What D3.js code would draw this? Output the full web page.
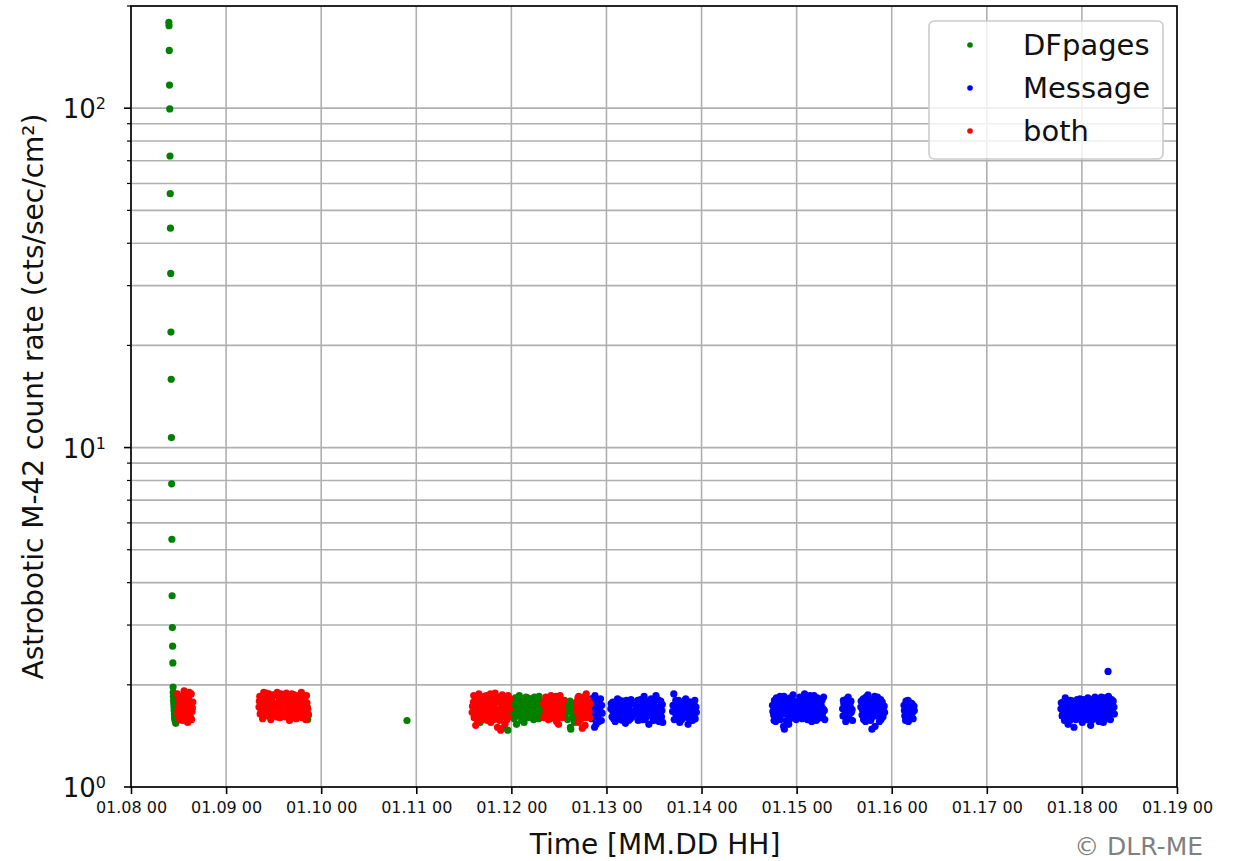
<!DOCTYPE html>
<html>
<head>
<meta charset="utf-8">
<script src="https://cdn.jsdelivr.net/npm/d3@7"></script>
<style>
  body { margin: 0; background: #ffffff; }
  text { font-family: "DejaVu Sans", sans-serif; }
</style>
</head>
<body>
<svg id="chart" width="1238" height="861"></svg>
<script>
// Astrobotic M-42 count rate, January 2024. Times are hours after 2024-01-08 00:00 UTC.
const startTime = "2024-01-08T00:00:00Z";
const endTime = "2024-01-19T00:00:00Z";
const seriesNames = ["DFpages", "Message", "both"];
const seriesColors = ["#008000", "#0000ff", "#ff0000"];
const yMajorTicks = [1, 10, 100];
const yTickExponents = ["0", "1", "2"];

// [hour, count rate]
const dfpages = [
  [9.55,179],[9.60,175],[9.66,148],[9.72,117],[9.78,99.5],[9.84,72.3],[9.90,56],[9.96,44.3],
  [10.02,32.6],[10.08,21.9],[10.14,15.9],[10.20,10.7],[10.26,7.82],[10.32,5.37],[10.38,3.66],
  [10.44,2.95],[10.50,2.60],[10.56,2.32],[10.62,1.97],[10.66,1.90],[10.70,1.85],[10.75,1.80],
  [10.80,1.76],[10.85,1.72],[10.90,1.68],[10.95,1.64],[11.00,1.60],[11.10,1.57],[11.20,1.69],
  [11.30,1.54],[11.05,1.75],[11.15,1.63],[11.25,1.58],[14.90,1.70],
  [39.7,1.83],[40.0,1.72],[40.1,1.60],[39.9,1.77],[39.8,1.66],[43.9,1.68],[44.3,1.66],[44.5,1.72],
  [44.8,1.63],[44.6,1.58],
  [69.66,1.57],
  [87.6,1.72],[88.1,1.55],[94.9,1.68],[93.9,1.49],[95.1,1.47],
  [95.9,1.80],[96.2,1.66],[96.4,1.74],[96.7,1.59],[97.0,1.83],[97.2,1.70],[97.5,1.62],[97.8,1.77],
  [98.0,1.86],[98.3,1.68],[98.6,1.57],[98.8,1.79],[99.1,1.73],[99.4,1.64],[99.7,1.84],[99.9,1.71],
  [100.2,1.60],[100.5,1.78],[100.8,1.67],[101.0,1.82],[101.3,1.74],[101.6,1.58],[101.9,1.69],
  [102.1,1.80],[102.4,1.63],[102.7,1.76],[103.0,1.85],[103.2,1.66],[103.5,1.72],[103.8,1.61],
  [96.0,1.72],[98.1,1.74],[100.0,1.75],[102.0,1.72],[97.3,1.53],[99.2,1.55],
  [96.1,1.62],[96.5,1.79],[96.9,1.69],[97.4,1.75],[97.7,1.65],[98.2,1.81],[98.5,1.72],[98.9,1.63],
  [99.3,1.80],[99.6,1.68],[100.1,1.83],[100.4,1.65],[100.7,1.72],[101.1,1.61],[101.5,1.77],
  [101.8,1.84],[102.2,1.67],[102.6,1.71],[102.9,1.59],[103.3,1.79],[103.7,1.68],[104.0,1.74],
  [109.2,1.70],[109.5,1.62],[109.8,1.76],[110.2,1.58],[110.5,1.68],[110.9,1.50],[111.2,1.73],
  [111.5,1.64],[111.9,1.55],[112.2,1.69],[112.5,1.60],[110.8,1.79],[111.0,1.48],
  [109.4,1.80],[110.0,1.66],[110.4,1.74],[111.4,1.60],[111.7,1.71],[112.0,1.63]
];

const message = [
  [115.9,1.70],[116.1,1.82],[116.3,1.59],[116.6,1.76],[116.9,1.65],[117.1,1.86],[117.4,1.53],
  [117.6,1.72],[117.9,1.62],[118.2,1.79],[118.4,1.67],[118.7,1.57],[118.8,1.74],[117.0,1.50],
  [116.0,1.64],[116.4,1.73],[116.8,1.80],[117.2,1.61],[117.5,1.79],[117.8,1.68],[118.1,1.56],
  [118.5,1.82],[118.9,1.65],
  [121.1,1.70],[121.4,1.61],[121.6,1.78],[121.9,1.66],[122.2,1.56],[122.5,1.74],[122.8,1.82],
  [123.0,1.63],[123.3,1.69],[123.6,1.58],[123.9,1.77],[124.2,1.66],[124.5,1.72],[124.8,1.54],
  [125.1,1.80],[125.4,1.64],[125.7,1.70],[126.0,1.59],[126.3,1.76],[126.6,1.66],
  [121.2,1.76],[121.5,1.68],[121.8,1.59],[122.0,1.72],[122.4,1.64],[122.7,1.60],[123.1,1.75],
  [123.4,1.80],[123.8,1.65],[124.1,1.57],[124.4,1.79],[124.7,1.68],[125.0,1.62],[125.3,1.75],
  [125.6,1.57],[125.9,1.68],[126.2,1.81],[126.5,1.61],
  [127.4,1.64],[127.7,1.75],[128.0,1.57],[128.3,1.69],[128.6,1.81],[128.9,1.62],[129.2,1.73],
  [129.5,1.85],[129.8,1.58],[130.1,1.67],[130.4,1.78],[130.7,1.53],[131.0,1.70],[131.3,1.82],
  [131.6,1.61],[131.9,1.75],[132.2,1.66],[132.5,1.86],[132.8,1.57],[133.1,1.72],[133.4,1.64],
  [133.7,1.79],[134.0,1.68],[134.2,1.55],
  [127.5,1.71],[127.9,1.80],[128.2,1.63],[128.5,1.74],[128.8,1.68],[129.1,1.58],[129.4,1.67],
  [129.7,1.77],[130.0,1.72],[130.3,1.62],[130.6,1.69],[130.9,1.80],[131.2,1.64],[131.5,1.72],
  [131.8,1.57],[132.1,1.79],[132.4,1.70],[132.7,1.63],[133.0,1.81],[133.3,1.56],[133.6,1.70],
  [133.9,1.61],[134.1,1.75],
  [137.0,1.88],
  [136.7,1.67],[137.1,1.58],[137.3,1.75],[137.6,1.63],[137.9,1.70],[138.2,1.80],[138.5,1.55],
  [138.8,1.69],[139.1,1.76],[139.4,1.61],[139.7,1.72],[140.0,1.82],[140.3,1.65],[140.6,1.53],
  [140.9,1.71],[141.2,1.78],[141.5,1.62],[141.8,1.68],[142.1,1.75],[142.4,1.59],[142.7,1.66],
  [136.8,1.74],[137.2,1.66],[137.5,1.80],[137.8,1.61],[138.1,1.68],[138.4,1.75],[138.7,1.63],
  [139.0,1.58],[139.3,1.71],[139.6,1.79],[139.9,1.65],[140.2,1.74],[140.5,1.60],[140.8,1.78],
  [141.1,1.66],[141.4,1.73],[141.7,1.57],[142.0,1.70],[142.3,1.80],[142.6,1.72],
  [161.9,1.74],[162.2,1.63],[162.4,1.80],[162.7,1.56],[163.0,1.69],[163.3,1.77],[163.5,1.60],
  [163.8,1.85],[164.1,1.67],[164.4,1.72],[164.7,1.51],[165.0,1.79],[165.3,1.64],[165.6,1.70],
  [165.9,1.82],[166.2,1.58],[166.5,1.75],[166.8,1.66],[167.1,1.87],[167.4,1.62],[167.7,1.71],
  [164.9,1.48],[166.0,1.53],
  [162.0,1.67],[162.3,1.57],[162.6,1.72],[162.9,1.83],[163.2,1.62],[163.6,1.71],[163.9,1.58],
  [164.2,1.79],[164.5,1.64],[164.8,1.85],[165.1,1.70],[165.4,1.57],[165.7,1.76],[166.1,1.68],
  [166.4,1.83],[166.7,1.61],[167.0,1.73],[167.3,1.79],[167.6,1.65],[167.9,1.58],
  [168.2,1.78],[168.5,1.65],[168.8,1.84],[169.1,1.70],[169.4,1.59],[169.7,1.76],[170.0,1.88],
  [170.3,1.67],[170.6,1.73],[170.9,1.61],[171.2,1.81],[171.5,1.69],[171.8,1.56],[172.1,1.75],
  [172.4,1.86],[172.7,1.64],[173.0,1.71],[173.3,1.59],[173.6,1.79],[173.9,1.67],[174.2,1.74],
  [174.5,1.62],[174.8,1.84],[175.0,1.68],[171.0,1.75],
  [168.3,1.61],[168.6,1.73],[168.9,1.66],[169.2,1.80],[169.5,1.74],[169.8,1.63],[170.1,1.70],
  [170.4,1.81],[170.7,1.58],[171.1,1.66],[171.4,1.86],[171.7,1.73],[172.0,1.63],[172.3,1.69],
  [172.6,1.79],[172.9,1.57],[173.2,1.83],[173.5,1.66],[173.8,1.73],[174.1,1.60],[174.4,1.80],
  [174.7,1.70],[175.1,1.58],
  [179.6,1.70],[179.8,1.80],[180.0,1.62],[180.2,1.75],[180.4,1.56],[180.7,1.68],[181.0,1.84],
  [181.2,1.60],[181.5,1.73],[181.8,1.66],[182.1,1.57],
  [179.7,1.62],[179.9,1.76],[180.1,1.69],[180.5,1.81],[180.8,1.59],[181.1,1.72],[181.4,1.65],
  [181.7,1.79],[182.0,1.69],
  [184.2,1.72],[184.5,1.63],[184.8,1.82],[185.1,1.68],[185.4,1.56],[185.7,1.77],[186.0,1.87],
  [186.3,1.65],[186.6,1.73],[186.9,1.60],[187.2,1.80],[187.5,1.69],[187.8,1.51],[188.1,1.75],
  [188.4,1.84],[188.7,1.64],[189.0,1.71],[189.3,1.58],[189.6,1.78],[189.9,1.67],[190.1,1.73],
  [187.0,1.48],
  [184.3,1.79],[184.6,1.69],[184.9,1.58],[185.2,1.76],[185.5,1.84],[185.8,1.63],[186.1,1.70],
  [186.4,1.79],[186.7,1.57],[187.1,1.66],[187.4,1.75],[187.7,1.85],[188.0,1.62],[188.3,1.69],
  [188.6,1.77],[188.9,1.56],[189.2,1.81],[189.5,1.70],[189.8,1.61],[190.2,1.66],
  [195.1,1.74],[195.3,1.62],[195.6,1.79],[195.9,1.68],[196.2,1.56],[196.5,1.71],[196.8,1.64],
  [197.1,1.76],[197.4,1.59],[197.7,1.68],
  [195.2,1.68],[195.5,1.57],[195.8,1.73],[196.1,1.80],[196.4,1.62],[196.7,1.77],[197.0,1.69],
  [197.3,1.66],[197.6,1.73],
  [234.7,1.70],[235.0,1.62],[235.3,1.78],[235.6,1.57],[235.9,1.68],[236.2,1.74],[236.5,1.53],
  [236.8,1.65],[237.1,1.80],[237.4,1.61],[237.7,1.72],[238.0,1.50],[238.3,1.67],[238.6,1.76],
  [238.9,1.59],[239.2,1.70],[239.5,1.82],[239.8,1.63],[240.1,1.55],[240.4,1.74],[240.7,1.66],
  [241.0,1.79],[241.3,1.58],[241.6,1.69],[241.9,1.75],[242.2,1.52],[242.5,1.64],[242.8,1.81],
  [243.1,1.70],[243.4,1.60],[243.7,1.77],[244.0,1.67],[244.3,1.56],[244.6,1.73],[244.9,1.84],
  [245.2,1.62],[245.5,1.71],[245.8,1.58],[246.1,1.78],[246.4,1.66],[246.7,1.85],[247.0,1.61],
  [247.3,1.74],[247.6,1.69],[247.9,1.79],[248.2,1.64],[246.6,2.19],
  [234.8,1.77],[235.2,1.65],[235.5,1.72],[235.8,1.83],[236.1,1.61],[236.4,1.70],[236.7,1.78],
  [237.0,1.57],[237.3,1.68],[237.6,1.79],[237.9,1.64],[238.2,1.73],[238.5,1.58],[238.8,1.81],
  [239.1,1.66],[239.4,1.61],[239.7,1.76],[240.0,1.69],[240.3,1.81],[240.6,1.58],[240.9,1.72],
  [241.2,1.65],[241.5,1.83],[241.8,1.61],[242.1,1.70],[242.4,1.77],[242.7,1.58],[243.0,1.66],
  [243.3,1.84],[243.6,1.72],[243.9,1.60],[244.2,1.79],[244.5,1.65],[244.8,1.70],[245.1,1.77],
  [245.4,1.55],[245.7,1.83],[246.0,1.68],[246.3,1.73],[246.9,1.70],[247.2,1.58],[247.5,1.81],
  [247.8,1.66],[248.1,1.72]
];

const both = [
  [11.7,1.88],[11.9,1.72],[12.1,1.60],[12.3,1.79],[12.5,1.66],[12.8,1.85],[13.0,1.57],[13.2,1.70],
  [13.4,1.92],[13.6,1.63],[13.9,1.77],[14.1,1.68],[14.3,1.55],[14.5,1.83],[14.8,1.73],[15.0,1.61],
  [15.2,1.88],[15.4,1.67],[15.6,1.78],[13.7,1.84],[12.6,1.75],[14.6,1.59],
  [11.8,1.65],[12.0,1.81],[12.2,1.68],[12.4,1.58],[12.7,1.62],[12.9,1.74],[13.1,1.82],[13.3,1.60],
  [13.5,1.75],[13.8,1.69],[14.0,1.86],[14.2,1.76],[14.4,1.64],[14.7,1.90],[14.9,1.66],[15.1,1.77],
  [15.3,1.58],[15.5,1.71],
  [32.3,1.72],[32.5,1.85],[32.6,1.64],[33.0,1.78],[33.2,1.59],[33.5,1.90],[33.7,1.69],[34.0,1.81],
  [34.2,1.62],[34.5,1.75],[34.8,1.88],[35.0,1.67],[35.3,1.58],[35.5,1.80],[35.8,1.71],[36.1,1.86],
  [36.3,1.63],[36.6,1.76],[36.9,1.90],[37.1,1.68],[37.4,1.82],[37.6,1.60],[37.9,1.74],[38.2,1.87],
  [38.4,1.66],[38.7,1.79],[39.0,1.61],[39.2,1.89],[39.5,1.70],[39.8,1.83],[40.0,1.57],[40.3,1.76],
  [40.6,1.88],[40.8,1.65],[41.1,1.80],[41.4,1.72],[41.7,1.59],[41.9,1.85],[42.2,1.69],[42.5,1.78],
  [42.8,1.62],[43.0,1.90],[43.3,1.73],[43.6,1.66],[43.9,1.84],[44.1,1.58],[44.4,1.77],[44.6,1.70],
  [33.9,1.73],[36.0,1.76],[38.0,1.70],[40.1,1.81],[42.0,1.74],[34.7,1.68],[37.0,1.77],
  [32.4,1.79],[32.8,1.67],[33.1,1.84],[33.4,1.62],[33.8,1.77],[34.1,1.89],[34.4,1.66],[34.9,1.73],
  [35.2,1.82],[35.6,1.64],[35.9,1.87],[36.4,1.72],[36.8,1.61],[37.2,1.85],[37.5,1.71],[37.8,1.88],
  [38.1,1.63],[38.5,1.78],[38.9,1.84],[39.1,1.67],[39.4,1.76],[39.6,1.61],[40.4,1.68],[40.7,1.79],
  [41.0,1.60],[41.2,1.87],[41.5,1.66],[41.8,1.77],[42.1,1.63],[42.4,1.86],[42.7,1.71],[42.9,1.79],
  [43.2,1.60],[43.5,1.82],[43.8,1.75],[44.0,1.69],[44.3,1.86],[44.7,1.64],
  [86.1,1.66],[86.4,1.78],[86.6,1.60],[86.9,1.84],[87.2,1.71],[87.5,1.63],[87.8,1.88],[88.0,1.75],
  [88.3,1.57],[88.6,1.82],[88.9,1.68],[89.1,1.73],[89.4,1.60],[89.7,1.86],[90.0,1.77],[90.2,1.64],
  [90.5,1.70],[90.8,1.55],[91.1,1.81],[91.3,1.67],[91.6,1.74],[91.9,1.89],[92.1,1.61],[92.4,1.78],
  [92.7,1.69],[93.0,1.57],[93.2,1.84],[93.5,1.72],[93.8,1.63],[94.1,1.79],[94.4,1.53],[94.7,1.68],
  [95.0,1.75],[95.3,1.61],[95.6,1.82],[87.0,1.52],[92.5,1.50],[93.3,1.47],[89.0,1.80],[91.0,1.62],
  [90.3,1.83],[88.2,1.69],
  [86.2,1.73],[86.5,1.86],[86.8,1.70],[87.1,1.79],[87.4,1.58],[87.7,1.67],[88.4,1.77],[88.8,1.62],
  [89.2,1.85],[89.6,1.68],[89.9,1.57],[90.4,1.75],[90.7,1.88],[91.2,1.71],[91.5,1.58],[91.8,1.77],
  [92.2,1.84],[92.6,1.64],[92.9,1.79],[93.4,1.60],[93.7,1.87],[94.0,1.70],[94.3,1.83],[94.6,1.62],
  [94.9,1.58],[95.2,1.86],[95.5,1.70],
  [104.1,1.77],[104.4,1.64],[104.7,1.84],[105.0,1.70],[105.3,1.58],[105.6,1.80],[105.9,1.67],
  [106.2,1.75],[106.5,1.61],[106.8,1.82],[107.1,1.69],[107.4,1.56],[107.7,1.78],[108.0,1.65],
  [108.3,1.86],[108.6,1.72],[108.9,1.60],[109.2,1.80],[106.0,1.86],[107.9,1.53],
  [104.2,1.60],[104.5,1.72],[104.9,1.81],[105.2,1.66],[105.5,1.74],[105.8,1.59],[106.3,1.68],
  [106.7,1.76],[107.0,1.62],[107.3,1.85],[107.6,1.71],[108.1,1.79],[108.4,1.62],[108.8,1.76],
  [109.0,1.68],
  [112.4,1.78],[112.7,1.66],[113.0,1.85],[113.3,1.71],[113.5,1.58],[113.8,1.81],[114.1,1.68],
  [114.4,1.75],[114.6,1.52],[114.9,1.88],[115.2,1.63],[115.5,1.73],[115.8,1.60],[113.9,1.49],
  [114.0,1.62],[112.9,1.55],[115.0,1.79],
  [112.5,1.71],[112.8,1.83],[113.1,1.62],[113.4,1.77],[113.7,1.66],[114.2,1.84],[114.5,1.70],
  [114.8,1.60],[115.3,1.81],[115.6,1.67],[115.9,1.76]
];

const seriesData = [dfpages, message, both];

const svg = d3.select("#chart");
const plot = { left: 131, right: 1177, top: 6, bottom: 787 };
const t0 = new Date(startTime).getTime();
const toDate = h => new Date(t0 + h * 3600e3);

const x = d3.scaleUtc()
  .domain([new Date(startTime), new Date(endTime)])
  .range([plot.left, plot.right]);
const y = d3.scaleLog()
  .domain([1, 200])
  .range([plot.bottom, plot.top]);

const gridColor = "#b0b0b0";
const xTicks = x.ticks(d3.utcDay.every(1));
const yMinor = [];
for (const dec of [1, 10, 100]) {
  for (let k = 2; k <= 9; k++) if (k * dec <= 200) yMinor.push(k * dec);
}

// grid
const grid = svg.append("g");
grid.selectAll(".gx").data(xTicks).join("line")
  .attr("x1", d => x(d)).attr("x2", d => x(d))
  .attr("y1", plot.top).attr("y2", plot.bottom)
  .attr("stroke", gridColor).attr("stroke-width", 1.6);
grid.selectAll(".gy").data(yMajorTicks.concat(yMinor)).join("line")
  .attr("x1", plot.left).attr("x2", plot.right)
  .attr("y1", d => y(d)).attr("y2", d => y(d))
  .attr("stroke", gridColor).attr("stroke-width", 1.6);

// points
const pts = svg.append("g");
seriesData.forEach((data, i) => {
  pts.append("g").selectAll("circle").data(data).join("circle")
    .attr("cx", d => x(toDate(d[0])))
    .attr("cy", d => y(d[1]))
    .attr("r", 3.6)
    .attr("fill", seriesColors[i]);
});

// frame
svg.append("rect")
  .attr("x", plot.left).attr("y", plot.top)
  .attr("width", plot.right - plot.left).attr("height", plot.bottom - plot.top)
  .attr("fill", "none").attr("stroke", "#000").attr("stroke-width", 1.6);

// x axis
const xAxis = d3.axisBottom(x)
  .tickValues(xTicks)
  .tickFormat(d3.utcFormat("%m.%d %H"))
  .tickSize(7).tickPadding(8);
const gx = svg.append("g").attr("transform", `translate(0,${plot.bottom})`).call(xAxis);
gx.select(".domain").remove();
gx.selectAll(".tick line").attr("stroke", "#000").attr("stroke-width", 1.6);
gx.selectAll(".tick text").attr("font-size", 16).attr("fill", "#111")
  .attr("font-family", "DejaVu Sans");

// y axis ticks
const gy = svg.append("g");
gy.selectAll(".major").data(yMajorTicks).join("line")
  .attr("x1", plot.left - 7).attr("x2", plot.left)
  .attr("y1", d => y(d)).attr("y2", d => y(d))
  .attr("stroke", "#000").attr("stroke-width", 1.6);
gy.selectAll(".minor").data(yMinor).join("line")
  .attr("x1", plot.left - 4).attr("x2", plot.left)
  .attr("y1", d => y(d)).attr("y2", d => y(d))
  .attr("stroke", "#000").attr("stroke-width", 1.2);
const yl = gy.selectAll(".lab").data(yMajorTicks).join("text")
  .attr("x", 106).attr("y", d => y(d) + 10)
  .attr("text-anchor", "end").attr("fill", "#111");
yl.append("tspan").attr("font-size", 26).text("10");
yl.append("tspan").attr("font-size", 16).attr("dy", -9)
  .text((d, i) => yTickExponents[i]);

// axis titles
svg.append("text")
  .attr("x", (plot.left + plot.right) / 2 + 1).attr("y", 854)
  .attr("text-anchor", "middle").attr("font-size", 28).attr("fill", "#111")
  .text("Time [MM.DD HH]");
svg.append("text")
  .attr("transform", `translate(43,${(plot.top + plot.bottom) / 2}) rotate(-90)`)
  .attr("text-anchor", "middle").attr("font-size", 28).attr("fill", "#111")
  .text("Astrobotic M-42 count rate (cts/sec/cm²)");

// legend
const lg = svg.append("g");
lg.append("rect")
  .attr("x", 929).attr("y", 21).attr("width", 234).attr("height", 138)
  .attr("rx", 5).attr("fill", "#fff").attr("fill-opacity", 0.8)
  .attr("stroke", "#cccccc").attr("stroke-width", 1.6);
seriesNames.forEach((name, i) => {
  const cy = 45 + i * 43;
  lg.append("circle").attr("cx", 970).attr("cy", cy).attr("r", 2.8).attr("fill", seriesColors[i]);
  lg.append("text").attr("x", 1023).attr("y", cy + 10)
    .attr("font-size", 29).attr("fill", "#111").text(name);
});

// credit
svg.append("text")
  .attr("x", 1203).attr("y", 855).attr("text-anchor", "end")
  .attr("font-family", "Liberation Sans, Arial, sans-serif")
  .attr("font-size", 25).attr("fill", "#808080")
  .text("© DLR-ME");
</script>
</body>
</html>
